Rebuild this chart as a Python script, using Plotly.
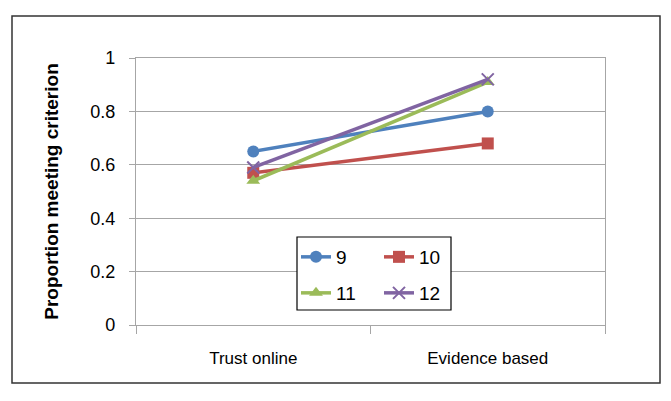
import plotly.graph_objects as go

categories = ["Trust online", "Evidence based"]
series_names = ["9", "10", "11", "12"]
values_9 = [0.65, 0.80]
values_10 = [0.57, 0.68]
values_11 = [0.54, 0.91]
values_12 = [0.59, 0.92]

colors = ["#4F81BD", "#C0504D", "#9BBB59", "#8064A2"]
symbols = ["circle", "square", "triangle-up", "x-thin"]
legends = ["legend", "legend", "legend2", "legend2"]
FONT = "Liberation Sans, Arial"

fig = go.Figure()
for name, vals, c, sym, lg in zip(series_names, [values_9, values_10, values_11, values_12],
                                  colors, symbols, legends):
    marker = dict(symbol=sym, size=12, color=c, line=dict(color=c, width=2 if sym == "x-thin" else 0))
    fig.add_trace(go.Scatter(x=categories, y=vals, name=name, mode="lines+markers",
                             line=dict(color=c, width=3.5), marker=marker, legend=lg))

# plot area in pixels: x 136..605, y 58..325
W, H = 671, 401
L, R, T, B = 136, 66, 58, 76
pw, ph = W - L - R, H - T - B
px = lambda x: (x - L) / pw
py = lambda y: (H - B - y) / ph

# outer frame
fig.add_shape(type="rect", xref="paper", yref="paper",
              x0=px(12), x1=px(660), y0=py(383), y1=py(16),
              line=dict(color="#333333", width=1.5), layer="below")
# legend box
fig.add_shape(type="rect", xref="paper", yref="paper",
              x0=px(297), x1=px(451), y0=py(310), y1=py(237),
              line=dict(color="#000000", width=1.2), fillcolor="white", layer="above")

leg = dict(orientation="h", xanchor="left", yanchor="middle", bgcolor="rgba(0,0,0,0)",
           borderwidth=0, entrywidth=38, entrywidthmode="pixels", itemwidth=30,
           font=dict(family=FONT, size=19, color="#000000"), tracegroupgap=0)
fig.update_layout(
    legend=dict(leg, x=px(296), y=py(257)),
    legend2=dict(leg, x=px(296), y=py(293)),
)

fig.update_xaxes(type="category", range=[-0.5, 1.5], showgrid=False,
                 showline=True, linecolor="#A6A6A6", linewidth=1.2, mirror=True,
                 ticks="outside", tickson="boundaries", ticklen=8, tickcolor="#A6A6A6",
                 tickfont=dict(family=FONT, size=17, color="#000000"),
                 ticklabelstandoff=17)
fig.update_yaxes(range=[0, 1], dtick=0.2, showgrid=True, gridcolor="#A6A6A6", gridwidth=1.2,
                 showline=True, linecolor="#A6A6A6", linewidth=1.2, mirror=True,
                 ticks="outside", ticklen=6, tickcolor="#A6A6A6", zeroline=False,
                 tickfont=dict(family=FONT, size=18, color="#000000"),
                 ticklabelstandoff=10,
                 title=dict(text="<b>Proportion meeting criterion</b>", standoff=26,
                            font=dict(family=FONT, size=19, color="#000000")))

fig.update_layout(width=W, height=H, margin=dict(l=L, r=R, t=T, b=B, autoexpand=False),
                  paper_bgcolor="white", plot_bgcolor="white", showlegend=True,
                  hovermode=False)

fig.write_html("out.html", config={"displayModeBar": False},
               post_script="document.body.style.margin='0px';")
